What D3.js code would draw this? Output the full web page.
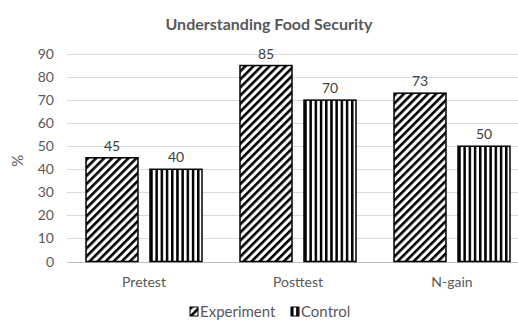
<!DOCTYPE html>
<html>
<head>
<meta charset="utf-8">
<script src="https://cdn.jsdelivr.net/npm/d3@7"></script>
<style>
  body { margin: 0; background: #fff; }
  text { font-family: Lato, "Open Sans", sans-serif; }
</style>
</head>
<body>
<div id="chart"></div>
<script>
const categories = ['Pretest', 'Posttest', 'N-gain'];
const seriesNames = ['Experiment', 'Control'];
const experiment = [45, 85, 73];
const control = [40, 70, 50];
const yTicks = [0, 10, 20, 30, 40, 50, 60, 70, 80, 90];

const W = 518, H = 321;
const margin = { top: 54, left: 67, bottom: 59 };
const plotRight = 529; // plot area runs past the picture edge

const svg = d3.select('#chart').append('svg')
    .attr('width', W)
    .attr('height', H);

const defs = svg.append('defs');

// wide upward diagonal
const diag = defs.append('pattern')
    .attr('id', 'pat-exp')
    .attr('patternUnits', 'userSpaceOnUse')
    .attr('width', 5.7)
    .attr('height', 5.7)
    .attr('patternTransform', 'rotate(45)');
diag.append('rect').attr('width', 5.7).attr('height', 5.7).attr('fill', '#fff');
diag.append('rect').attr('width', 2.6).attr('height', 5.7).attr('fill', '#000');

// vertical stripes
const vert = defs.append('pattern')
    .attr('id', 'pat-ctl')
    .attr('patternUnits', 'userSpaceOnUse')
    .attr('width', 5.2)
    .attr('height', 10);
vert.append('rect').attr('width', 5.2).attr('height', 10).attr('fill', '#fff');
vert.append('rect').attr('width', 2.5).attr('height', 10).attr('fill', '#000');

const fills = ['url(#pat-exp)', 'url(#pat-ctl)'];

const x0 = d3.scaleBand()
    .domain(categories)
    .range([margin.left, plotRight]);

const x1 = d3.scaleBand()
    .domain(seriesNames)
    .range([19, 135])
    .paddingInner(0.1875);

const y = d3.scaleLinear()
    .domain([0, 90])
    .range([H - margin.bottom - 0.5, margin.top]);

// gridlines
svg.append('g')
    .selectAll('line')
    .data(yTicks)
    .join('line')
    .attr('x1', margin.left)
    .attr('x2', plotRight)
    .attr('y1', d => Math.round(y(d)) + 0.5)
    .attr('y2', d => Math.round(y(d)) + 0.5)
    .attr('stroke', d => d === 0 ? '#bfbfbf' : '#d9d9d9')
    .attr('stroke-width', 1);

// y axis labels
svg.append('g')
    .selectAll('text')
    .data(yTicks)
    .join('text')
    .attr('x', 54)
    .attr('y', d => y(d) + 5)
    .attr('text-anchor', 'end')
    .attr('fill', '#595959')
    .style('font-size', '14px')
    .text(d => d);

// y title
svg.append('text')
    .attr('transform', `translate(23, ${(y(0) + y(90)) / 2 + 3}) rotate(-90)`)
    .attr('text-anchor', 'middle')
    .attr('fill', '#595959')
    .style('font-size', '15px')
    .text('%');

// bars
const rows = categories.map((c, i) => ({ cat: c, vals: [experiment[i], control[i]] }));

const groups = svg.append('g')
    .selectAll('g')
    .data(rows)
    .join('g')
    .attr('transform', d => `translate(${x0(d.cat)},0)`);

const bars = groups.selectAll('g')
    .data(d => d.vals.map((v, j) => ({ key: seriesNames[j], v, j })))
    .join('g');

bars.append('rect')
    .attr('x', d => x1(d.key))
    .attr('y', d => y(d.v))
    .attr('width', x1.bandwidth())
    .attr('height', d => y(0) - y(d.v))
    .attr('fill', d => fills[d.j])
    .attr('stroke', '#000')
    .attr('stroke-width', 1.5);

bars.append('text')
    .attr('x', d => x1(d.key) + x1.bandwidth() / 2)
    .attr('y', d => y(d.v) - 7)
    .attr('text-anchor', 'middle')
    .attr('fill', '#404040')
    .style('font-size', '14px')
    .text(d => d.v);

// category labels
svg.append('g')
    .selectAll('text')
    .data(categories)
    .join('text')
    .attr('x', d => x0(d) + x0.bandwidth() / 2)
    .attr('y', 287)
    .attr('text-anchor', 'middle')
    .attr('fill', '#595959')
    .style('font-size', '14px')
    .text(d => d);

// title
svg.append('text')
    .attr('x', 269)
    .attr('y', 30)
    .attr('text-anchor', 'middle')
    .attr('fill', '#595959')
    .style('font-size', '16px')
    .style('font-weight', 'bold')
    .text('Understanding Food Security');

// legend
const legendX = [190, 291];
const legend = svg.append('g')
    .selectAll('g')
    .data(seriesNames)
    .join('g')
    .attr('transform', (d, i) => `translate(${legendX[i]}, 307)`);

legend.append('rect')
    .attr('width', 8)
    .attr('height', 9)
    .attr('fill', (d, i) => fills[i])
    .attr('stroke', '#000')
    .attr('stroke-width', 1);

legend.append('text')
    .attr('x', 10)
    .attr('y', 10)
    .attr('fill', '#595959')
    .style('font-size', '15px')
    .text(d => d);
</script>
</body>
</html>
